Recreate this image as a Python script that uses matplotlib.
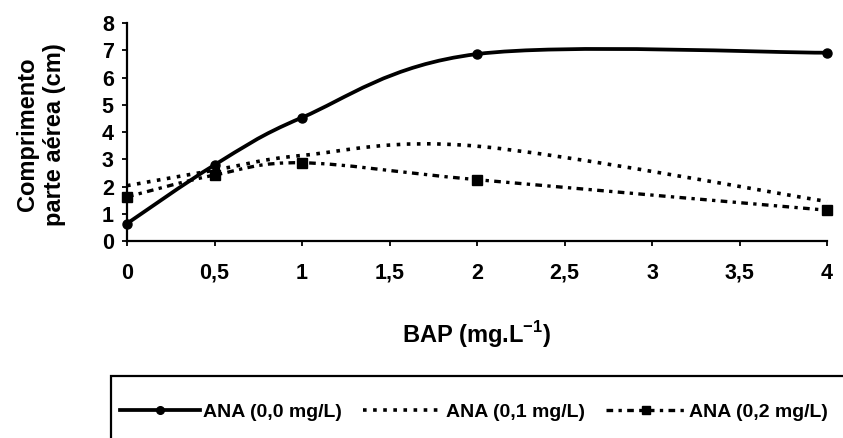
import matplotlib
matplotlib.use("Agg")
import matplotlib.pyplot as plt
from matplotlib.path import Path
from matplotlib.patches import PathPatch, Rectangle
from matplotlib.lines import Line2D

plt.rcParams['font.family'] = ['Liberation Sans', 'DejaVu Sans']
plt.rcParams['mathtext.fontset'] = 'custom'
plt.rcParams['mathtext.rm'] = 'Liberation Sans:bold'
plt.rcParams['mathtext.bf'] = 'Liberation Sans:bold'

bap = [0, 0.5, 1, 2, 4]
ana_00 = [0.64, 2.79, 4.53, 6.86, 6.91]
ana_01 = [2.03, 2.60, 3.14, 3.48, 1.45]
ana_02 = [1.62, 2.42, 2.87, 2.25, 1.13]
labels = ['ANA (0,0 mg/L)', 'ANA (0,1 mg/L)', 'ANA (0,2 mg/L)']
xticks = [0, 0.5, 1, 1.5, 2, 2.5, 3, 3.5, 4]
xticklabels = ['0', '0,5', '1', '1,5', '2', '2,5', '3', '3,5', '4']


def smooth_path(x, y):
    # excel-like smoothed line: cubic bezier through the points
    pts = list(zip(x, y))
    n = len(pts)
    verts = [pts[0]]
    codes = [Path.MOVETO]
    for i in range(n - 1):
        p0 = pts[i - 1] if i > 0 else pts[i]
        p1 = pts[i]
        p2 = pts[i + 1]
        p3 = pts[i + 2] if i + 2 < n else pts[i + 1]
        c1 = (p1[0] + (p2[0] - p0[0]) / 6, p1[1] + (p2[1] - p0[1]) / 6)
        c2 = (p2[0] - (p3[0] - p1[0]) / 6, p2[1] - (p3[1] - p1[1]) / 6)
        verts += [c1, c2, p2]
        codes += [Path.CURVE4] * 3
    return Path(verts, codes)


fig = plt.figure(figsize=(8.43, 4.38), dpi=100)
ax = fig.add_axes([127/843, 1-241/438, 700/843, 218/438])

styles = [
    dict(ls='-', lw=2.7, marker='o', ms=6.5),
    dict(ls=(0, (1.0, 1.8)), lw=2.6, marker=None, ms=0),
    dict(ls=(0, (2.0, 1.6, 1.0, 1.6)), lw=2.4, marker='s', ms=6.5),
]
handles = []
for ys, st, lab in zip([ana_00, ana_01, ana_02], styles, labels):
    ax.add_patch(PathPatch(smooth_path(bap, ys), fill=False, ec='black',
                           lw=st['lw'], ls=st['ls'], clip_on=False))
    if st['marker']:
        ax.plot(bap, ys, ls='none', marker=st['marker'], ms=st['ms'],
                color='black', clip_on=False, zorder=3)
    handles.append(Line2D([], [], color='black', lw=st['lw'], ls=st['ls'],
                          marker=st['marker'], ms=st['ms'] - 1))

ax.set_xlim(0, 4)
ax.set_ylim(0, 8)
ax.set_xticks(xticks)
ax.set_xticklabels(xticklabels)
ax.set_yticks(range(0, 9))
for s in ['top', 'right']:
    ax.spines[s].set_visible(False)
for s in ['left', 'bottom']:
    ax.spines[s].set_linewidth(1.6)
ax.tick_params(axis='both', direction='out', length=3.5, width=1.3,
               labelsize=15.5)
ax.tick_params(axis='x', pad=12)
ax.tick_params(axis='y', pad=6)
for t in ax.get_xticklabels() + ax.get_yticklabels():
    t.set_fontweight('bold')

ax.set_xlabel('BAP (mg.L$^{-1}$)', fontsize=17, fontweight='bold',
              va='center')
ax.xaxis.set_label_coords(0.5, -(335-241)/218)
ax.set_ylabel('Comprimento\nparte aérea (cm)', fontsize=17,
              fontweight='bold', linespacing=1.25, va='center')
ax.yaxis.set_label_coords(-(127-41)/700, 0.49)

fig.patches.append(Rectangle((111/843, -0.2), 1.0, 0.2 + 1-376/438,
                             transform=fig.transFigure, fill=False,
                             ec='black', lw=1.6, clip_on=False))
leg = fig.legend(handles, labels, loc='center left',
                 bbox_to_anchor=(120/843, 1-412/438), ncol=3, frameon=False,
                 fontsize=14, handlelength=4.1, handletextpad=0.15,
                 columnspacing=1.1, borderpad=0, borderaxespad=0)
for t in leg.get_texts():
    t.set_fontweight('bold')

fig.savefig('out.png', dpi=100)
